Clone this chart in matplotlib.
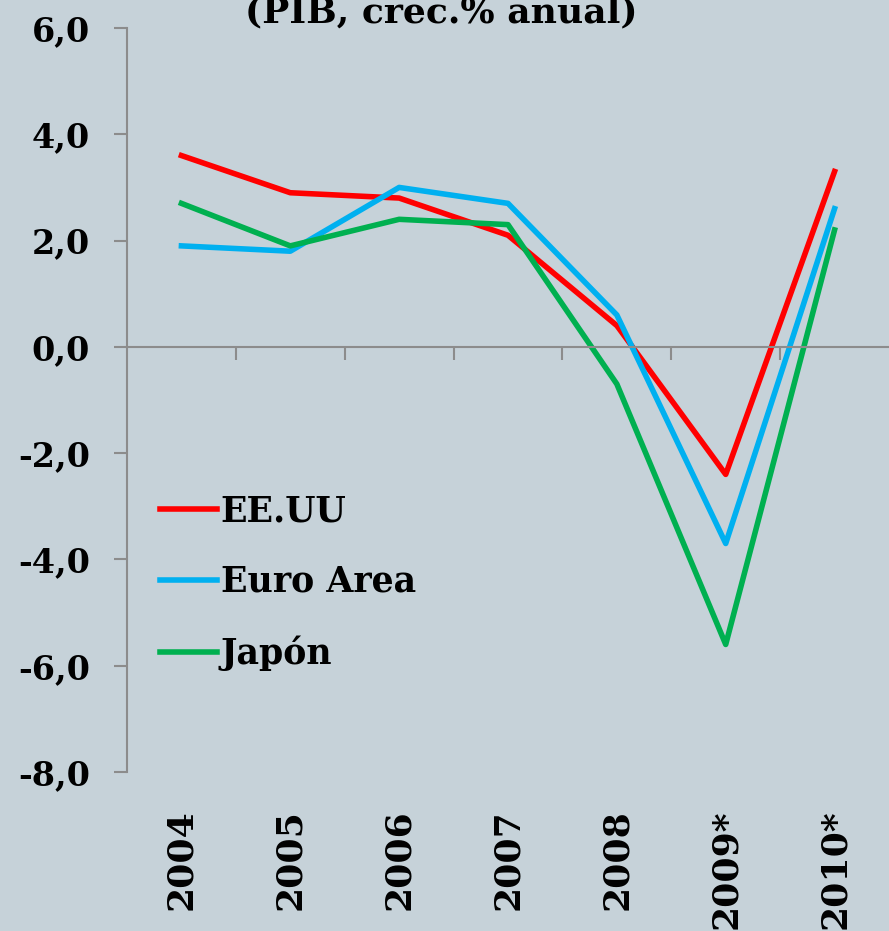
import numpy as np
import matplotlib.pyplot as plt
from matplotlib import transforms

years = ["2004", "2005", "2006", "2007", "2008", "2009*", "2010*"]
eeuu = [3.6, 2.9, 2.8, 2.1, 0.4, -2.4, 3.3]
euro = [1.9, 1.8, 3.0, 2.7, 0.6, -3.7, 2.6]
japon = [2.7, 1.9, 2.4, 2.3, -0.7, -5.6, 2.2]
yticks = [6, 4, 2, 0, -2, -4, -6, -8]

bg = "#c6d2d9"
grey = "#8c8c8c"
font = "DejaVu Serif"

fig = plt.figure(figsize=(8.89, 9.31), dpi=100, facecolor=bg)
ax = fig.add_axes([127 / 889, 1 - 772 / 931, 1 - 127 / 889, 744 / 931])
ax.set_facecolor(bg)

x = np.arange(len(years))
ax.plot(x, eeuu, color="#ff0000", lw=4, label="EE.UU")
ax.plot(x, euro, color="#00b0f0", lw=4, label="Euro Area")
ax.plot(x, japon, color="#00b050", lw=4, label="Japón")

ax.set_xlim(-0.5, len(years) - 0.5)
ax.set_ylim(-8, 6)

# left axis + horizontal axis through zero
for s in ["top", "right"]:
    ax.spines[s].set_visible(False)
ax.spines["bottom"].set_position(("data", 0))
for s in ["bottom", "left"]:
    ax.spines[s].set_color(grey)
    ax.spines[s].set_linewidth(1.5)

ax.set_xticks(np.arange(0.5, len(years) - 0.5, 1))
ax.set_xticklabels([])
ax.tick_params(axis="x", direction="out", length=9, width=1.5, color=grey)

ax.set_yticks(yticks)
ax.set_yticklabels([f"{v:.1f}".replace(".", ",") for v in yticks],
                   fontfamily=font, fontweight="bold", fontsize=24)
ax.tick_params(axis="y", direction="out", length=9.5, width=1.5, color=grey, pad=17)

# year labels under the plot
trans = transforms.blended_transform_factory(ax.transData, ax.transAxes)
for xi, lab in zip(x, years):
    ax.text(xi, -0.05, lab, transform=trans, rotation=90, ha="center", va="top",
            fontfamily=font, fontweight="bold", fontsize=26)

ax.legend(loc="upper left", bbox_to_anchor=(0.043, 0.373), frameon=False,
          handlelength=1.65, handletextpad=0.1, borderpad=0, borderaxespad=0,
          labelspacing=1.05, prop={"family": font, "weight": "bold", "size": 25})

fig.text(441 / 889, 1 - 22 / 931, "(PIB, crec.% anual)", ha="center", va="baseline",
         fontfamily=font, fontweight="bold", fontsize=26)

fig.savefig("out.png", dpi=100, facecolor=bg)
